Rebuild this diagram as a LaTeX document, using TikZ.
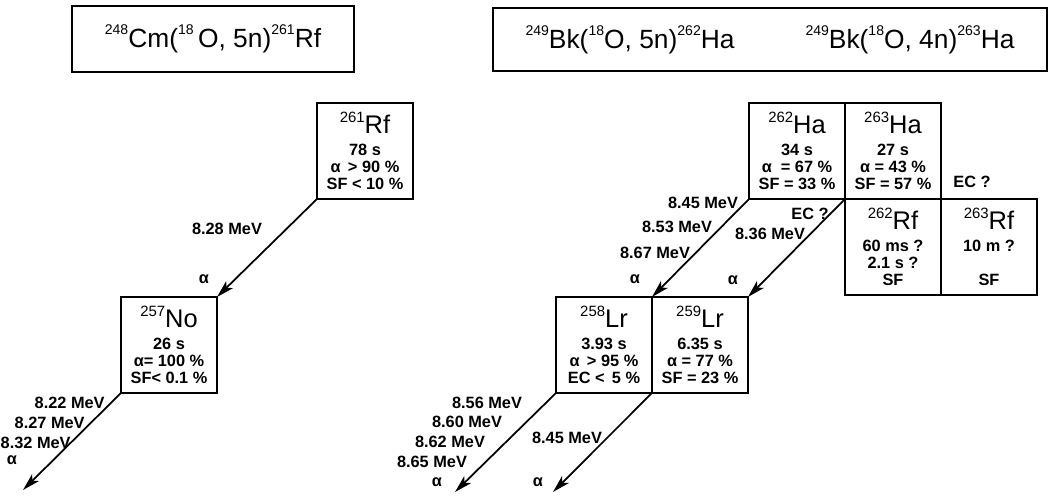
\documentclass[tikz,border=0pt]{standalone}
\usepackage{fontspec}
\setmainfont{Liberation Sans}
\usepackage{tikz}
\usetikzlibrary{arrows.meta,positioning}
\newcommand{\iso}[2]{{\mdseries\raisebox{6pt}{\fontsize{8.5}{8.5}\selectfont #1}\fontsize{14.5}{14.5}\selectfont #2}}
\newcommand{\hiso}[1]{\raisebox{7.5pt}{\fontsize{8}{8}\selectfont #1}}

\begin{document}
\begin{tikzpicture}[x=0.02cm,y=-0.02cm,
  nuc/.style={draw,line width=1.1pt,outer sep=0pt,anchor=north west,minimum width=1.92cm,minimum height=1.92cm,inner sep=0pt,align=center,font=\bfseries\fontsize{9.3}{9.6}\selectfont},
  hdr/.style={draw,line width=1.1pt,inner sep=0pt,font=\fontsize{15}{15}\selectfont},
  lbl/.style={inner sep=0pt,font=\bfseries\fontsize{9.3}{9.3}\selectfont},
  decay/.style={line width=1pt,-{Stealth[length=10pt,width=5.5pt,inset=2.5pt]}}]
\useasboundingbox (0,0) rectangle (1061,495);

\node[hdr,minimum width=5.64cm,minimum height=1.32cm] (cmhdr) at (213,39) {\hiso{248}Cm(\hiso{18}\,O, 5n)\hiso{261}Rf};
\node[hdr,minimum width=11.08cm,minimum height=1.26cm] (bkhdr) at (770,39.5) {\hiso{249}Bk(\hiso{18}O, 5n)\hiso{262}Ha\hspace{1.42cm}\hiso{249}Bk(\hiso{18}O, 4n)\hiso{263}Ha};

\node[nuc] (rf261) at (317,103) {\iso{261}{Rf}\\[3pt] 78 s\\ α \,> 90 \%\\ SF < 10 \%};
\node[nuc] (no257) at (121,297) {\iso{257}{No}\\[3pt] 26 s\\ α= 100 \%\\ SF< 0.1 \%};
\node[nuc] (ha262) at (749,103) {\iso{262}{Ha}\\[3pt] 34 s\\ α \;= 67 \%\\ SF = 33 \%};
\node[nuc,right=0pt of ha262] (ha263) {\iso{263}{Ha}\\[3pt] 27 s\\ α = 43 \%\\ SF = 57 \%};
\node[nuc,below=0pt of ha263] (rf262) {\iso{262}{Rf}\\[3pt] 60 ms ?\\ 2.1 s ?\\ SF};
\node[nuc,right=0pt of rf262] (rf263) {\iso{263}{Rf}\\[3pt] 10 m ?\\[9.6pt] SF};
\node[nuc] (lr258) at (556,297) {\iso{258}{Lr}\\[3pt] 3.93 s\\ α \,> 95 \%\\ EC < \,5 \%};
\node[nuc,right=0pt of lr258] (lr259) {\iso{259}{Lr}\\[3pt] 6.35 s\\ α = 77 \%\\ SF = 23 \%};

\coordinate (noend) at (23,490);
\coordinate (lrend) at (455,492);
\coordinate (lrbend) at (553,492);

\draw[decay] (rf261.south west) -- (no257.north east);
\draw[decay] (no257.south west) -- (noend);
\draw[decay] (ha262.south west) -- (lr258.north east);
\draw[decay] (ha262.south east) -- (lr259.north east);
\draw[decay] (lr258.south west) -- (lrend);
\draw[decay] (lr259.south west) -- (lrbend);

\node[lbl] (rfE) at (227,229) {8.28 MeV};
\node[lbl] (rfA) at (204,279) {α};
\node[lbl,anchor=east] (noE1) at (105,403) {8.22 MeV};
\node[lbl,anchor=east] (noE2) at (85,423) {8.27 MeV};
\node[lbl,anchor=east] (noE3) at (71,443) {8.32 MeV};
\node[lbl] (noA) at (12,460) {α};

\node[lbl] (haE1) at (703,203) {8.45 MeV};
\node[lbl] (haE2) at (677,227) {8.53 MeV};
\node[lbl] (haE3) at (655,253) {8.67 MeV};
\node[lbl] (haA) at (635,279) {α};
\node[lbl] (haEC) at (810,214) {EC ?};
\node[lbl] (hbE) at (770,234) {8.36 MeV};
\node[lbl] (hbA) at (733,280) {α};
\node[lbl] (hbEC) at (972,182) {EC ?};

\node[lbl] (lrE1) at (487,403) {8.56 MeV};
\node[lbl] (lrE2) at (467,422) {8.60 MeV};
\node[lbl] (lrE3) at (450,442) {8.62 MeV};
\node[lbl] (lrE4) at (432,462) {8.65 MeV};
\node[lbl] (lrA) at (437,482) {α};
\node[lbl] (lrbE) at (567,438) {8.45 MeV};
\node[lbl] (lrbA) at (538,482) {α};
\end{tikzpicture}
\end{document}
